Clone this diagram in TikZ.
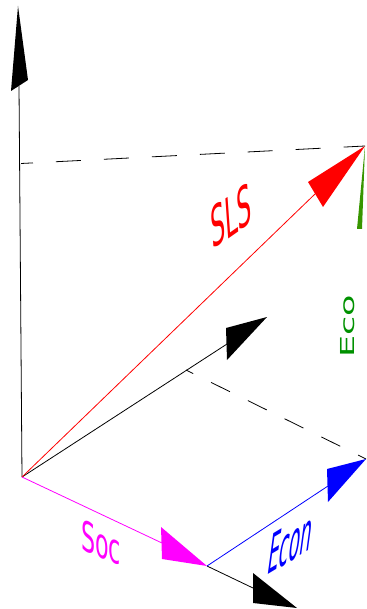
\documentclass[tikz,border=0pt]{standalone}
\usepackage{fontspec}
\setmainfont{DejaVu Sans}
\usepackage{xcolor}
\definecolor{slsred}{RGB}{255,0,0}
\definecolor{socmag}{RGB}{255,0,255}
\definecolor{econblue}{RGB}{0,0,255}
\definecolor{ecogreen}{RGB}{0,145,0}
\definecolor{ecohead}{RGB}{56,150,0}

\begin{document}
\begin{tikzpicture}[
      x=1pt, y=-1pt,
      axisline/.style={line width=0.8pt},
      guide/.style={line width=0.8pt, dash pattern=on 25pt off 23pt, dash phase=13pt},
      lbl/.style={inner sep=0pt, anchor=base west}
    ]
      \useasboundingbox (0,0) rectangle (366,609);
      % base points of the diagram
      \coordinate (o) at (22,477);
      \coordinate (sls) at (365,146);
      \coordinate (soc) at (207,566);
      \coordinate (econ) at (366,459);
      \coordinate (vtip) at (18,6);
      \coordinate (dtip) at (267,317);
      \coordinate (xtip) at (297,608);
      \coordinate (vleft) at (21,163.5);
      \coordinate (dmid) at (186,370);
      % shafts end under the heads
      \coordinate (vend) at (19,86);
      \coordinate (slsend) at (315,194);
      \coordinate (dend) at (227,344);
      \coordinate (socend) at (162,543);
      \coordinate (econend) at (328,486);
      \coordinate (xend) at (253,588);

      % guides
      \draw[guide] (vleft) -- (sls);
      \draw[guide, dash pattern=on 21pt off 20pt] (dmid) -- (econ);

      % axes and vectors
      \draw[axisline] (o) -- (vend);
      \draw[axisline] (o) -- (dend);
      \draw[axisline] (soc) -- (xend);
      \draw[axisline, slsred] (o) -- (slsend);
      \draw[axisline, socmag] (o) -- (socend);
      \draw[axisline, econblue] (soc) -- (econend);

      % heads
      \fill (vtip) -- (11,91) -- (28,80) -- cycle;
      \fill (dtip) -- (226,328) -- (227,360) -- cycle;
      \fill (xtip) -- (253,573) -- (253,603) -- cycle;
      \fill[slsred] (sls) -- (308,182) -- (323,207) -- cycle;
      \fill[ecohead] (sls) -- (357,229) -- (362,229) -- cycle;
      \fill[socmag] (soc) -- (161,527) -- (162,559) -- cycle;
      \fill[econblue] (econ) -- (327,469) -- (328,502) -- cycle;

      % labels
      \node[lbl, text=slsred, rotate=35, xslant=0.6, yscale=1.75, font=\fontsize{27}{32}\selectfont] (slslabel) at (212,250) {SLS};
      \node[lbl, text=econblue, rotate=31, xslant=0.8, yscale=2.1, font=\fontsize{21}{25}\selectfont] (econlabel) at (266,576) {Econ};
      \node[lbl, text=socmag, rotate=-23, xslant=-0.42, yscale=1.6, font=\fontsize{24}{28}\selectfont] (soclabel) at (81,549) {Soc};
      \node[lbl, text=ecogreen, rotate=90, yscale=0.55, font=\fontsize{35}{40}\selectfont] (ecolabel) at (354,358) {Eco};
    \end{tikzpicture}
\end{document}
